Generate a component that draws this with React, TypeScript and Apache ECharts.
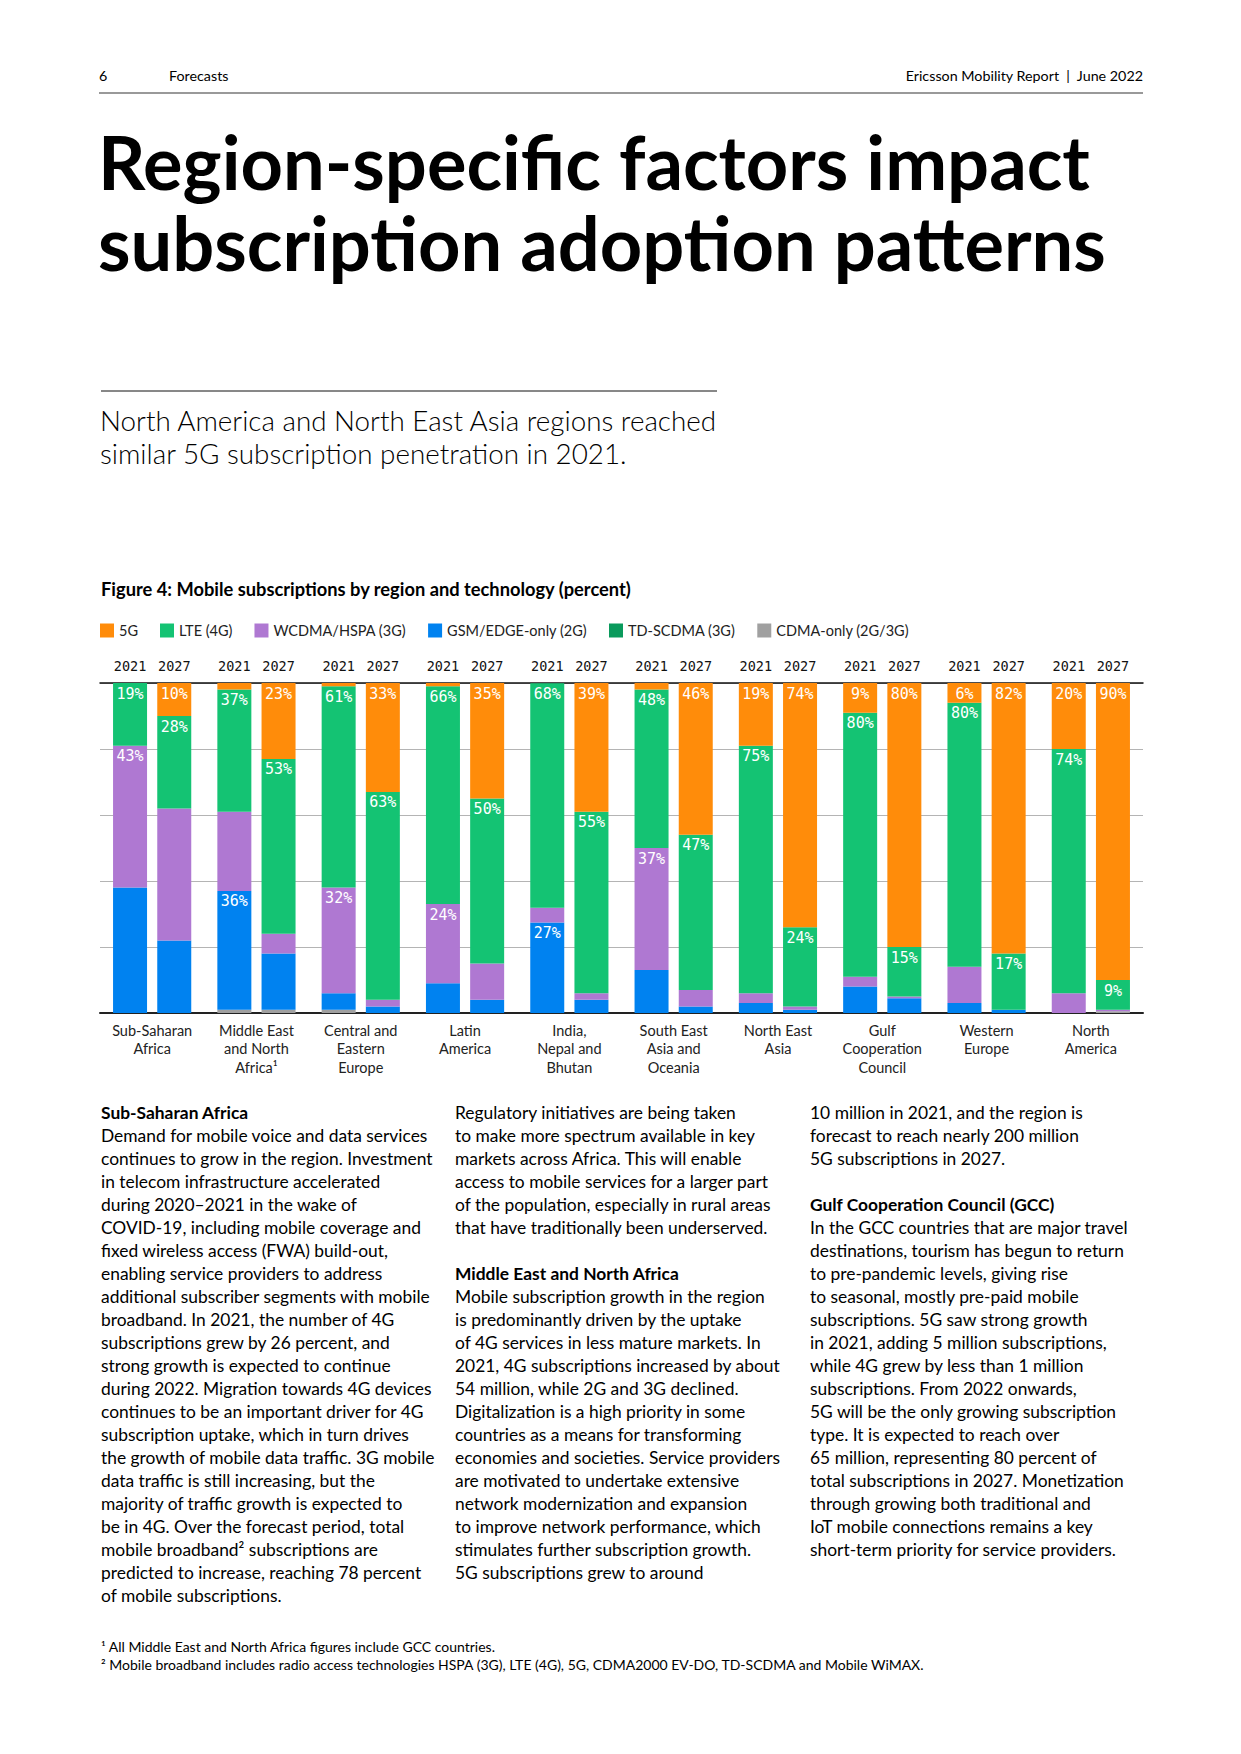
import React, { useEffect, useRef } from 'react';
import * as echarts from 'echarts';

const regions = [
  'Sub-Saharan\nAfrica',
  'Middle East\nand North\nAfrica¹',
  'Central and\nEastern\nEurope',
  'Latin\nAmerica',
  'India,\nNepal and\nBhutan',
  'South East\nAsia and\nOceania',
  'North East\nAsia',
  'Gulf\nCooperation\nCouncil',
  'Western\nEurope',
  'North\nAmerica',
];
const years = ['2021', '2027'];
const techNames = ['5G', 'LTE (4G)', 'WCDMA/HSPA (3G)', 'GSM/EDGE-only (2G)', 'TD-SCDMA (3G)', 'CDMA-only (2G/3G)'];
const techColors = ['#FF8C0A', '#14C373', '#AF78D2', '#0082F0', '#0A9A5C', '#A0A0A0'];

// 2021 shares (percent)
const g5_2021 = [0, 2, 1, 1, 0, 2, 19, 9, 6, 20];
const lte_2021 = [19, 37, 61, 66, 68, 48, 75, 80, 80, 74];
const wcdma_2021 = [43, 24, 32, 24, 4.5, 37, 3, 3, 11, 6];
const gsm_2021 = [38, 36, 5, 9, 27.4, 13, 3, 8, 3, 0];
const td_2021 = [0, 0, 0, 0, 0, 0, 0, 0, 0, 0];
const cdma_2021 = [0, 1, 1, 0, 0, 0, 0, 0, 0, 0];
// 2027 shares (percent)
const g5_2027 = [10, 23, 33, 35, 39, 46, 74, 80, 82, 90];
const lte_2027 = [28, 53, 63, 50, 55, 47, 24, 15, 17, 9];
const wcdma_2027 = [40, 6, 2, 11, 2, 5, 1, 0.5, 0, 0.5];
const gsm_2027 = [22, 17, 2, 4, 4, 2, 1, 4.5, 1, 0];
const td_2027 = [0, 0, 0, 0, 0, 0, 0, 0, 0, 0];
const cdma_2027 = [0, 1, 0, 0, 0, 0, 0, 0, 0, 0.5];

// which segments carry a value label
const lbl_g5_2021 = [0, 0, 0, 0, 0, 0, 1, 1, 1, 1];
const lbl_lte_2021 = [1, 1, 1, 1, 1, 1, 1, 1, 1, 1];
const lbl_wcdma_2021 = [1, 0, 1, 1, 0, 1, 0, 0, 0, 0];
const lbl_gsm_2021 = [0, 1, 0, 0, 1, 0, 0, 0, 0, 0];
const lbl_g5_2027 = [1, 1, 1, 1, 1, 1, 1, 1, 1, 1];
const lbl_lte_2027 = [1, 1, 1, 1, 1, 1, 1, 1, 1, 1];
const lbl_none = [0, 0, 0, 0, 0, 0, 0, 0, 0, 0];
const yearAnchor = [0, 0, 0, 0, 0, 0, 0, 0, 0, 0];

const col1Heading = 'Sub-Saharan Africa';
const col1Lines = [
  'Demand for mobile voice and data services',
  'continues to grow in the region. Investment',
  'in telecom infrastructure accelerated',
  'during 2020–2021 in the wake of',
  'COVID-19, including mobile coverage and',
  'fixed wireless access (FWA) build-out,',
  'enabling service providers to address',
  'additional subscriber segments with mobile',
  'broadband. In 2021, the number of 4G',
  'subscriptions grew by 26 percent, and',
  'strong growth is expected to continue',
  'during 2022. Migration towards 4G devices',
  'continues to be an important driver for 4G',
  'subscription uptake, which in turn drives',
  'the growth of mobile data traffic. 3G mobile',
  'data traffic is still increasing, but the',
  'majority of traffic growth is expected to',
  'be in 4G. Over the forecast period, total',
  'mobile broadband² subscriptions are',
  'predicted to increase, reaching 78 percent',
  'of mobile subscriptions.',
];
const col2LinesA = [
  'Regulatory initiatives are being taken',
  'to make more spectrum available in key',
  'markets across Africa. This will enable',
  'access to mobile services for a larger part',
  'of the population, especially in rural areas',
  'that have traditionally been underserved.',
];
const col2Heading = 'Middle East and North Africa';
const col2LinesB = [
  'Mobile subscription growth in the region',
  'is predominantly driven by the uptake',
  'of 4G services in less mature markets. In',
  '2021, 4G subscriptions increased by about',
  '54 million, while 2G and 3G declined.',
  'Digitalization is a high priority in some',
  'countries as a means for transforming',
  'economies and societies. Service providers',
  'are motivated to undertake extensive',
  'network modernization and expansion',
  'to improve network performance, which',
  'stimulates further subscription growth.',
  '5G subscriptions grew to around',
];
const col3LinesA = [
  '10 million in 2021, and the region is',
  'forecast to reach nearly 200 million',
  '5G subscriptions in 2027.',
];
const col3Heading = 'Gulf Cooperation Council (GCC)';
const col3LinesB = [
  'In the GCC countries that are major travel',
  'destinations, tourism has begun to return',
  'to pre-pandemic levels, giving rise',
  'to seasonal, mostly pre-paid mobile',
  'subscriptions. 5G saw strong growth',
  'in 2021, adding 5 million subscriptions,',
  'while 4G grew by less than 1 million',
  'subscriptions. From 2022 onwards,',
  '5G will be the only growing subscription',
  'type. It is expected to reach over',
  '65 million, representing 80 percent of',
  'total subscriptions in 2027. Monetization',
  'through growing both traditional and',
  'IoT mobile connections remains a key',
  'short-term priority for service providers.',
];
const footnotes = [
  '¹ All Middle East and North Africa figures include GCC countries.',
  '² Mobile broadband includes radio access technologies HSPA (3G), LTE (4G), 5G, CDMA2000 EV-DO, TD-SCDMA and Mobile WiMAX.',
];

const SANS = 'Lato';
const MONO = 'DejaVu Sans Mono';
const BODY = 17.4;

function txt(x: number, y: number, text: string, o: any = {}) {
  const va = o.va || 'middle';
  const al = o.align || 'left';
  return {
    type: 'text',
    x,
    y,
    silent: true,
    style: {
      text,
      fill: o.fill || '#000',
      fontFamily: o.fontFamily || SANS,
      fontSize: o.fontSize || BODY,
      fontWeight: o.fontWeight || 'normal',
      lineHeight: o.lineHeight,
      align: al,
      verticalAlign: va,
      textAlign: al,
      textVerticalAlign: va,
    },
  };
}

export default function App() {
  const ref = useRef<HTMLDivElement>(null);
  useEffect(() => {
    if (!ref.current) return;
    const chart = echarts.init(ref.current, undefined, { renderer: 'svg' });

    const mk = (vals: number[], flags: number[]) =>
      vals.map((v, i) => (flags[i] ? { value: v, label: { show: true } } : v));

    const baseLabel = {
      show: false,
      position: 'insideTop',
      distance: 3,
      color: '#fff',
      fontFamily: MONO,
      fontSize: 15,
      formatter: (p: any) => Math.round(p.value) + '%',
    };

    const stacks: any[] = [
      // bottom to top
      { idx: 5, d21: cdma_2021, d27: cdma_2027, l21: lbl_none, l27: lbl_none },
      { idx: 3, d21: gsm_2021, d27: gsm_2027, l21: lbl_gsm_2021, l27: lbl_none },
      { idx: 4, d21: td_2021, d27: td_2027, l21: lbl_none, l27: lbl_none },
      { idx: 2, d21: wcdma_2021, d27: wcdma_2027, l21: lbl_wcdma_2021, l27: lbl_none },
      { idx: 1, d21: lte_2021, d27: lte_2027, l21: lbl_lte_2021, l27: lbl_lte_2027 },
      { idx: 0, d21: g5_2021, d27: g5_2027, l21: lbl_g5_2021, l27: lbl_g5_2027 },
    ];

    const series: any[] = [];
    stacks.forEach((s) => {
      [0, 1].forEach((yi) => {
        series.push({
          name: techNames[s.idx],
          type: 'bar',
          stack: years[yi],
          barWidth: 34,
          barGap: '30%',
          itemStyle: { color: techColors[s.idx] },
          label: baseLabel,
          emphasis: { disabled: true },
          data: mk(yi === 0 ? s.d21 : s.d27, yi === 0 ? s.l21 : s.l27),
        });
      });
    });
    years.forEach((y) => {
      series.push({
        name: 'year-' + y,
        type: 'bar',
        stack: y,
        barWidth: 34,
        barGap: '30%',
        itemStyle: { color: 'transparent' },
        label: {
          show: true,
          position: 'top',
          distance: 10,
          color: '#111',
          fontFamily: MONO,
          fontSize: 13.5,
          formatter: () => y,
        },
        emphasis: { disabled: true },
        data: yearAnchor,
      });
    });

    const graphic: any[] = [
      txt(99, 75, '6', { fontSize: 14.3 }),
      txt(169, 75, 'Forecasts', { fontSize: 14.3 }),
      txt(1143, 75, 'Ericsson Mobility Report  |  June 2022', { fontSize: 14.3, align: 'right' }),
      { type: 'line', silent: true, shape: { x1: 99, y1: 93, x2: 1143, y2: 93 }, style: { stroke: '#777', lineWidth: 1.5 } },
      txt(98, 202, 'Region-specific factors impact\nsubscription adoption patterns', {
        fontSize: 74,
        fontWeight: 'bold',
        lineHeight: 81,
      }),
      { type: 'line', silent: true, shape: { x1: 101, y1: 391, x2: 717, y2: 391 }, style: { stroke: '#111', lineWidth: 1 } },
      txt(100, 437, 'North America and North East Asia regions reached\nsimilar 5G subscription penetration in 2021.', {
        fontSize: 27.8,
        fontWeight: 300,
        lineHeight: 33,
      }),
      txt(101, 589, 'Figure 4: Mobile subscriptions by region and technology (percent)', {
        fontSize: 18.3,
        fontWeight: 'bold',
      }),
      // column 1
      txt(101, 1112, col1Heading, { fontWeight: 'bold' }),
      txt(101, 1135 - 11.5, col1Lines.join('\n'), { lineHeight: 23, va: 'top' }),
      // column 2
      txt(455, 1112 - 11.5, col2LinesA.join('\n'), { lineHeight: 23, va: 'top' }),
      txt(455, 1273, col2Heading, { fontWeight: 'bold' }),
      txt(455, 1296 - 11.5, col2LinesB.join('\n'), { lineHeight: 23, va: 'top' }),
      // column 3
      txt(810, 1112 - 11.5, col3LinesA.join('\n'), { lineHeight: 23, va: 'top' }),
      txt(810, 1204, col3Heading, { fontWeight: 'bold' }),
      txt(810, 1227 - 11.5, col3LinesB.join('\n'), { lineHeight: 23, va: 'top' }),
      // footnotes
      txt(101, 1646, footnotes[0], { fontSize: 14 }),
      txt(101, 1664, footnotes[1], { fontSize: 14 }),
    ];

    chart.setOption({
      animation: false,
      backgroundColor: '#fff',
      legend: {
        data: techNames,
        left: 95,
        top: 618,
        itemWidth: 14,
        itemHeight: 14,
        itemGap: 22,
        icon: 'rect',
        selectedMode: false,
        textStyle: { fontFamily: SANS, fontSize: 14.5, color: '#222' },
      },
      grid: { left: 100, right: 98, top: 683, bottom: 741, containLabel: false },
      xAxis: [
        {
          type: 'category',
          data: regions,
          position: 'bottom',
          axisLine: { lineStyle: { color: '#222', width: 2 } },
          axisTick: { show: false },
          axisLabel: {
            interval: 0,
            margin: 8,
            fontFamily: SANS,
            fontSize: 14.5,
            lineHeight: 18.5,
            color: '#222',
          },
        },
        {
          type: 'category',
          data: regions,
          position: 'top',
          axisLine: { lineStyle: { color: '#111', width: 1.5 } },
          axisTick: { show: false },
          axisLabel: { show: false },
        },
      ],
      yAxis: {
        type: 'value',
        min: 0,
        max: 100,
        interval: 20,
        axisLabel: { show: false },
        axisLine: { show: false },
        axisTick: { show: false },
        splitLine: { lineStyle: { color: '#b4b4b4', width: 1 } },
      },
      series,
      graphic,
    });
    return () => chart.dispose();
  }, []);
  return <div ref={ref} style={{ position: 'absolute', left: 0, top: 0, width: 1241, height: 1754 }} />;
}
